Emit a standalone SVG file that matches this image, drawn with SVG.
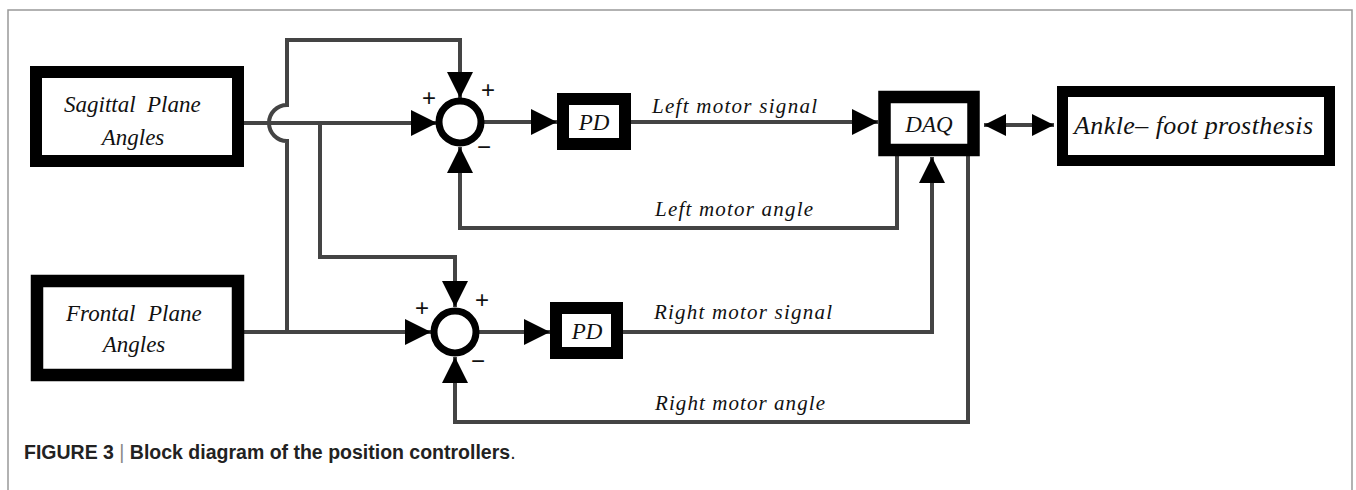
<svg xmlns="http://www.w3.org/2000/svg" width="1356" height="490" viewBox="0 0 1356 490">
<defs>
<style>
.blk{fill:#fff;stroke:#000}
.lbl{font-family:"Liberation Serif","Times New Roman",serif;font-style:italic;fill:#111}
.sgn{font-family:"Liberation Sans",Arial,sans-serif;font-size:24px;fill:#111;text-anchor:middle}
.wire{fill:none;stroke:#444;stroke-width:4}
.sum{fill:#fff;stroke:#000;stroke-width:7}
.cap{font-family:"Liberation Sans",Arial,sans-serif;font-size:19.5px;fill:#222}
</style>
<marker id="arr" markerUnits="userSpaceOnUse" markerWidth="26" markerHeight="26" viewBox="0 0 24 24" refX="24" refY="12" orient="auto">
<path d="M0,0 L24,12 L0,24 z" fill="#000"/>
</marker>
<marker id="arrs" markerUnits="userSpaceOnUse" markerWidth="22" markerHeight="22" viewBox="0 0 20 20" refX="20" refY="10" orient="auto-start-reverse">
<path d="M0,0 L20,10 L0,20 z" fill="#000"/>
</marker>
</defs>
<rect width="1356" height="490" fill="#fff"/>
<path d="M8,490 V10 H1352 V490" fill="none" stroke="#999" stroke-width="1.5"/>

<g id="connectors">
<path class="wire" d="M244,123 H437" marker-end="url(#arr)"/>
<path class="wire" d="M287,332 V141 A18,18 0 0 1 287,105 V40 H460 V98" marker-end="url(#arr)"/>
<path class="wire" d="M320,123 V257 H455 V307" marker-end="url(#arr)"/>
<path class="wire" d="M244,332 H431" marker-end="url(#arr)"/>
<path class="wire" d="M484,122 H557" marker-end="url(#arr)"/>
<path class="wire" d="M631,122 H878" marker-end="url(#arr)"/>
<path class="wire" d="M897,156 V228 H460 V147" marker-end="url(#arr)"/>
<path class="wire" d="M479,332 H550" marker-end="url(#arr)"/>
<path class="wire" d="M623,332 H932 V157" marker-end="url(#arr)"/>
<path class="wire" d="M968,156 V422 H455 V357" marker-end="url(#arr)"/>
<path class="wire" d="M984,125 H1054" marker-start="url(#arrs)" marker-end="url(#arrs)"/>
</g>

<g id="sagittal">
<rect class="blk" x="36" y="72" width="202" height="89" stroke-width="12"/>
<text class="lbl" y="112" font-size="23"><tspan x="64">Sagittal</tspan><tspan x="147">Plane</tspan></text>
<text class="lbl" x="133" y="145" font-size="23" text-anchor="middle">Angles</text>
</g>
<g id="frontal">
<rect class="blk" x="37" y="281" width="201" height="94" stroke-width="12.5"/>
<text class="lbl" y="321" font-size="23"><tspan x="66">Frontal</tspan><tspan x="148">Plane</tspan></text>
<text class="lbl" x="134" y="352" font-size="23" text-anchor="middle">Angles</text>
</g>

<g id="sum1">
<circle class="sum" cx="460" cy="122" r="21"/>
<text class="sgn" x="429" y="106">+</text>
<text class="sgn" x="488" y="98">+</text>
<text class="sgn" x="484" y="155">−</text>
</g>
<g id="sum2">
<circle class="sum" cx="455" cy="332" r="21"/>
<text class="sgn" x="422" y="316">+</text>
<text class="sgn" x="482" y="308">+</text>
<text class="sgn" x="478" y="369">−</text>
</g>

<g id="pd1">
<rect class="blk" x="563" y="99" width="62" height="45" stroke-width="12"/>
<text class="lbl" x="594" y="130" font-size="23" text-anchor="middle">PD</text>
</g>
<g id="pd2">
<rect class="blk" x="556" y="308" width="61" height="45" stroke-width="12"/>
<text class="lbl" x="587" y="339" font-size="23" text-anchor="middle">PD</text>
</g>

<g id="daq">
<rect class="blk" x="884.5" y="97" width="89" height="53" stroke-width="12.5"/>
<text class="lbl" x="929" y="132" font-size="23" text-anchor="middle">DAQ</text>
</g>

<g id="ankle">
<rect class="blk" x="1062.5" y="91.5" width="267" height="69" stroke-width="11"/>
<text class="lbl" x="1074" y="134" font-size="26" textLength="239" lengthAdjust="spacing">Ankle– foot prosthesis</text>
</g>

<g id="labels">
<text class="lbl" x="652" y="113" font-size="21" textLength="165" lengthAdjust="spacing">Left motor signal</text>
<text class="lbl" x="655" y="216" font-size="21" textLength="158" lengthAdjust="spacing">Left motor angle</text>
<text class="lbl" x="654" y="319" font-size="21" textLength="178" lengthAdjust="spacing">Right motor signal</text>
<text class="lbl" x="655" y="410" font-size="21" textLength="170" lengthAdjust="spacing">Right motor angle</text>
</g>

<g id="caption">
<text class="cap" x="24" y="459"><tspan font-weight="bold">FIGURE 3</tspan><tspan fill="#888"> | </tspan><tspan font-weight="bold">Block diagram of the position controllers</tspan>.</text>
</g>
</svg>
